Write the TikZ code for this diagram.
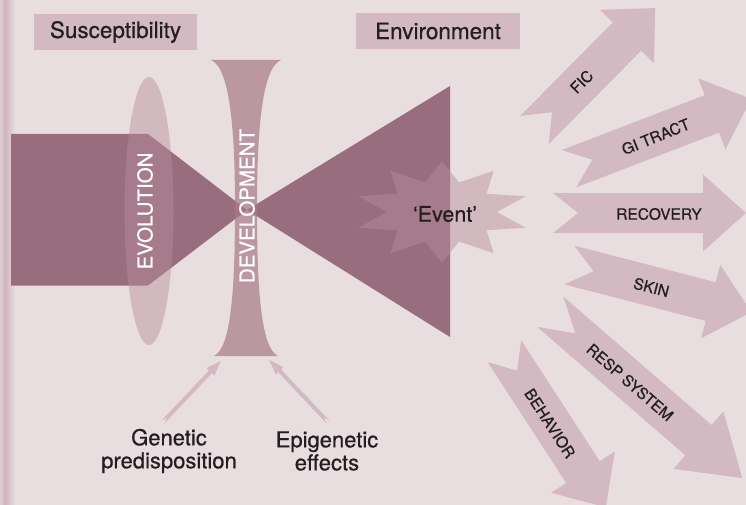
\documentclass[tikz,border=0pt]{standalone}
\usepackage{fontspec}
\setmainfont{TeX Gyre Heros}
\newfontfamily\heavy{TeX Gyre Heros}[FakeBold=0.6]
\definecolor{bgcol}{RGB}{232,222,224}
\definecolor{stripcol}{RGB}{208,180,189}
\definecolor{boxcol}{RGB}{211,185,193}
\definecolor{darkcol}{RGB}{152,110,126}
\definecolor{bandcol}{RGB}{168,122,137}
\definecolor{veilcol}{RGB}{185,141,155}
\definecolor{textcol}{RGB}{35,31,32}
\tikzset{
	heading/.style={fill=boxcol, text=textcol, inner sep=0pt, minimum width=163pt, minimum height=36pt, font=\heavy\fontsize{22.5}{24}\selectfont},
	upright/.style={text=white, rotate=90, inner sep=0pt, font=\heavy\fontsize{20.5}{21}\selectfont},
	tag/.style={text=textcol, inner sep=0pt, font=\heavy\fontsize{15.5}{16}\selectfont},
	caption/.style={text=textcol, align=center, inner sep=0pt, font=\heavy\fontsize{22}{23}\selectfont},
	veil/.style={fill=veilcol, fill opacity=0.45},
	arrowfill/.style={fill=boxcol}
}
\newcommand{\notchedarrow}[7]{%
	\begin{scope}[shift={#1},rotate=#2]
		\fill[arrowfill] (0,-#6) -- ({#3-#4},-#6) -- ({#3-#4},-#5) -- (#3,0) -- ({#3-#4},#5) -- ({#3-#4},#6) -- (0,#6) -- (#7,0) -- cycle;
	\end{scope}}
\begin{document}
\begin{tikzpicture}[x=1pt,y=-1pt]
	\useasboundingbox (0,0) rectangle (746,505);
	\clip (0,0) rectangle (746,505);
	\fill[bgcol] (0,0) rectangle (746,505);
	\shade[left color=bgcol!60!stripcol, right color=stripcol] (0,0) rectangle (5,505);
	\shade[left color=stripcol, right color=bgcol] (5,0) rectangle (15,505);

	\node[heading] (susc) at (115.5,32) {Susceptibility};
	\node[heading, minimum width=164pt] (env) at (438,31) {Environment};

	\fill[darkcol] (11,134) -- (148,134) -- (247,210) -- (148,285.5) -- (11,285.5) -- cycle;
	\fill[darkcol] (247,210) -- (450,86) -- (450,337) -- cycle;
	\fill[veil] (149,211) ellipse [x radius=24.5, y radius=134];
	\fill[bandcol, fill opacity=0.7] (211,60) -- (281,60)
		.. controls (262,68) and (257,130) .. (257,208)
		.. controls (257,290) and (261,348) .. (278,356) -- (214,356)
		.. controls (231,348) and (235,290) .. (235,208)
		.. controls (235,130) and (230,68) .. cycle;
	\node[upright] (evo) at (145,211) {EVOLUTION};
	\node[upright] (dev) at (247,206) {DEVELOPMENT};

	\coordinate (event) at (442,212);
	\fill[veil] (442,161) \foreach \k in {1,...,19}{ -- ({442+ifthenelse(isodd(\k),55,88)*cos(90+18*\k)},{212-ifthenelse(isodd(\k),31,51)*sin(90+18*\k)}) } -- cycle;
	\node[text=textcol, inner sep=0pt, font=\heavy\fontsize{21.5}{22}\selectfont] (eventlabel) at (445,214) {‘Event’};

	\notchedarrow{(534.5,130)}{45.3}{171.5}{40}{38}{20}{25}
	\notchedarrow{(569,168.7)}{21}{195}{42}{38}{20}{25}
	\notchedarrow{(553,213)}{0}{193}{43}{38.5}{20}{25}
	\notchedarrow{(569.3,265)}{-14.5}{188}{42}{38}{20}{25}
	\notchedarrow{(550.3,311.8)}{-40.9}{254}{58}{38}{20}{33}
	\notchedarrow{(504.5,351.3)}{-57}{186}{42}{38}{20}{23}
	\node[tag, rotate=45.3] (fic) at (581.7,81.7) {FIC};
	\node[tag, rotate=22] (gitract) at (655.7,136.7) {GI TRACT};
	\node[tag] (recovery) at (659,214) {RECOVERY};
	\node[tag, rotate=-14.5] (skin) at (651.3,287.3) {SKIN};
	\node[tag, rotate=-40.9] (resp) at (630,382.3) {RESP SYSTEM};
	\node[tag, rotate=-57] (behavior) at (550,423.3) {BEHAVIOR};

	\node[caption] (genetic) at (169,451) {Genetic\\predisposition};
	\node[caption] (epigenetic) at (327,451) {Epigenetic\\effects};
	\notchedarrow{(163,422)}{46.6}{84}{15}{5.5}{2}{6}
	\notchedarrow{(328,422)}{133.4}{85.4}{15}{5.5}{2}{6}
\end{tikzpicture}
\end{document}
